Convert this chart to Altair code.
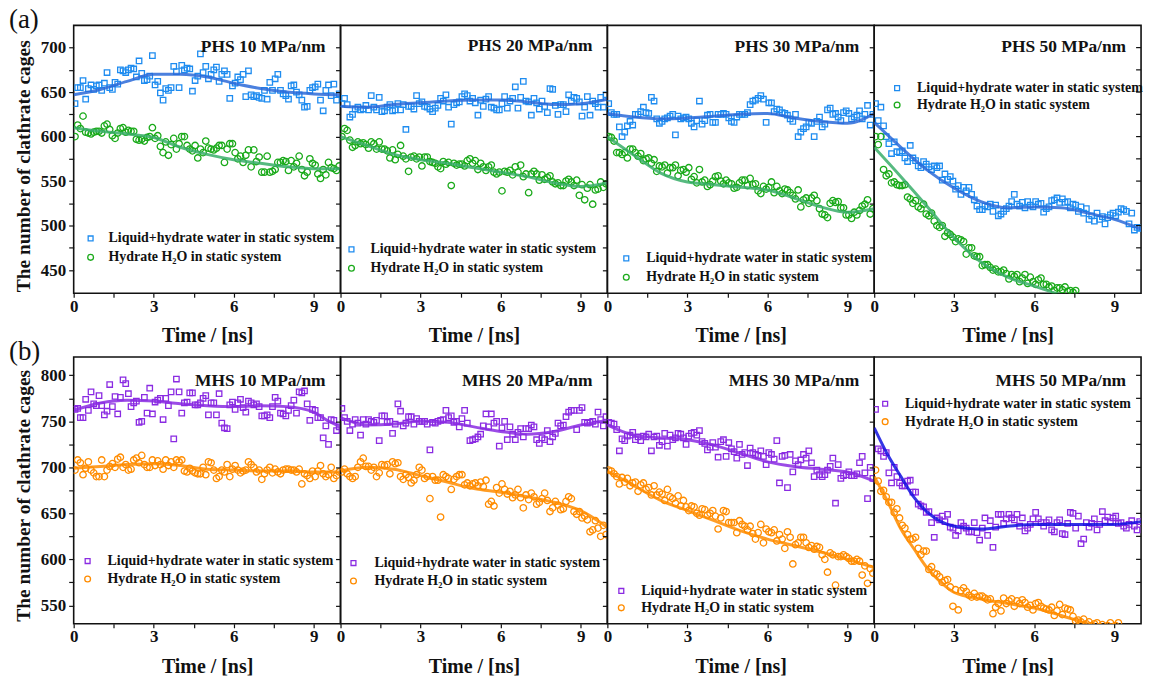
import altair as alt
import pandas as pd

# ---------------- data ----------------
T = [round(0.05 + 0.1 * i, 2) for i in range(100)]   # sampling grid, ns

PHS10_LIQ = [637,655,655,663,642,654,658,653,657,658,
             652,660,672,655,653,661,659,675,674,672,
             675,677,676,667,685,671,663,664,668,691,
             658,662,649,641,654,652,655,679,673,655,
             680,675,677,676,651,663,668,693,672,679,
             665,670,675,678,662,670,674,670,643,657,
             660,667,664,670,645,674,647,645,646,644,
             643,652,642,661,652,665,670,652,648,646,
             642,657,658,650,647,641,633,634,652,655,
             656,659,641,629,652,658,646,659,641,648]
PHS10_HYD = [600,613,609,623,605,604,603,605,606,606,
             604,612,614,608,601,598,604,609,610,605,
             607,606,606,597,596,597,595,599,600,610,
             598,601,589,582,594,579,591,598,586,592,
             600,600,590,586,584,590,576,586,582,595,
             587,586,585,587,590,590,571,586,592,592,
             582,575,578,571,579,585,566,585,572,577,
             560,560,578,560,561,563,571,571,573,572,
             562,573,566,570,578,563,556,560,575,570,
             568,558,553,563,557,571,565,564,562,567]
PHS20_LIQ = [637,643,636,622,625,631,633,630,631,635,
             630,646,633,630,644,628,629,633,636,629,
             630,637,630,636,608,634,634,631,646,637,
             639,634,633,631,628,632,635,643,640,647,
             633,614,636,638,639,645,648,646,640,643,
             638,624,641,634,642,645,633,632,630,630,
             637,645,632,640,643,656,632,644,662,640,
             639,624,643,638,631,640,634,627,654,653,
             635,625,636,636,628,647,640,644,643,639,
             623,633,645,624,640,637,633,644,633,647]
PHS20_HYD = [600,609,607,596,588,590,594,592,593,591,
             587,594,592,586,594,586,586,584,576,585,
             574,580,590,578,575,561,577,578,575,577,
             567,577,577,572,571,570,566,564,572,569,
             571,545,570,568,569,569,567,573,575,570,
             573,563,570,566,562,566,568,560,558,560,
             539,561,560,562,557,566,560,568,555,558,
             537,558,561,558,551,557,552,554,556,549,
             547,548,545,545,550,552,549,545,551,534,
             546,529,542,546,524,540,541,549,543,547]
PHS30_LIQ = [637,627,625,625,611,600,605,612,617,613,
             625,625,628,633,627,626,644,640,620,615,
             617,620,621,623,625,602,623,620,621,622,
             620,615,611,618,640,614,618,624,625,616,
             616,625,625,626,625,621,617,616,622,625,
             625,625,627,636,640,641,643,646,642,616,
             638,638,628,631,630,627,626,624,620,617,
             625,600,605,609,611,616,615,600,617,622,
             611,614,630,632,625,626,622,618,627,629,
             626,620,622,624,629,620,625,635,613,625]
PHS30_HYD = [600,599,595,582,582,580,582,576,586,586,
             582,578,581,573,575,576,570,574,561,567,
             566,568,559,565,565,568,556,562,563,560,
             565,552,555,548,563,549,551,544,546,550,
             555,556,550,547,551,548,547,542,543,548,
             551,551,545,553,546,547,539,536,544,541,
             543,549,537,544,539,536,541,540,537,534,
             530,540,521,529,531,525,531,534,528,519,
             513,512,509,525,528,526,527,520,520,512,
             512,508,515,512,517,522,524,529,513,519]
PHS50_LIQ = [637,618,633,612,600,592,581,594,583,582,
             584,576,572,590,576,573,567,565,572,569,
             566,563,567,565,567,551,558,552,555,550,
             541,545,535,543,539,543,535,529,522,518,
             518,522,521,524,516,523,511,513,516,519,
             522,527,535,524,522,526,520,527,523,521,
             527,524,525,515,519,521,528,529,531,526,
             530,526,527,520,524,523,516,521,514,519,
             507,511,505,514,507,510,502,509,512,514,
             511,515,519,518,516,502,514,495,498,497]
PHS50_HYD = [600,591,600,563,556,558,548,549,546,545,
             545,546,532,530,525,528,521,519,524,513,
             511,514,505,500,498,500,488,492,490,487,
             482,485,484,482,468,475,475,466,465,465,
             455,456,456,453,450,451,448,448,450,446,
             440,445,443,445,437,441,445,435,442,437,
             434,439,441,434,434,431,432,427,430,430,
             428,431,426,427,425,427]

MHS10_LIQ = [763,764,754,754,774,762,782,769,767,778,
             767,757,761,790,766,777,758,776,795,791,
             780,766,770,772,749,750,776,759,786,758,
             771,773,775,752,775,767,782,731,796,782,
             759,770,771,781,781,768,768,770,775,778,
             757,770,770,757,780,748,743,742,768,771,
             763,770,774,765,760,772,770,768,769,766,
             756,756,757,754,766,776,772,759,758,756,
             762,767,773,759,782,781,783,769,751,763,
             762,754,754,732,745,725,752,751,740,744]
MHS10_HYD = [697,708,705,692,699,706,697,694,690,690,
             708,690,697,701,704,700,709,711,700,703,
             697,698,708,710,705,713,703,700,700,708,
             702,707,703,698,708,702,706,700,708,706,
             708,696,695,699,696,694,693,693,700,692,
             706,705,697,688,690,697,695,703,690,698,
             702,697,694,696,697,706,703,700,695,697,
             687,693,697,700,694,698,695,693,697,698,
             698,697,697,695,698,682,693,691,688,696,
             690,696,702,693,690,692,700,688,691,695]
MHS20_LIQ = [764,754,750,740,747,752,748,735,752,747,
             752,750,749,751,729,756,756,749,750,737,
             747,769,761,745,748,755,755,747,753,750,
             750,750,747,719,749,748,750,751,752,762,
             754,756,749,750,744,753,762,748,729,730,
             731,733,736,745,758,744,758,748,750,723,
             743,750,730,744,736,730,738,742,733,742,
             742,746,744,730,726,732,730,740,728,733,
             737,748,745,746,755,760,762,762,741,762,
             765,749,748,749,750,747,760,752,745,755]
MHS20_HYD = [695,698,693,690,688,690,700,706,710,701,
             701,697,700,690,694,703,702,703,693,706,
             704,705,690,687,692,689,683,686,692,700,
             697,688,690,666,690,686,686,646,692,690,
             688,676,687,690,692,692,681,683,680,682,
             683,680,684,679,686,660,663,658,678,672,
             682,676,671,674,667,670,676,667,656,670,
             665,672,668,660,662,666,672,664,652,656,
             663,659,654,655,663,668,666,652,649,652,
             645,647,643,630,632,642,634,625,637,627]
MHS30_LIQ = [749,748,747,741,718,731,729,734,735,738,
             730,733,729,734,733,736,718,733,734,724,
             728,737,723,735,730,732,737,736,732,725,
             734,737,738,735,740,728,726,719,722,727,
             722,711,728,730,712,727,720,717,710,725,
             714,716,702,721,716,714,713,718,712,703,
             716,714,709,729,683,712,713,678,714,695,
             707,703,708,714,710,718,705,690,697,692,
             690,692,697,701,710,661,703,688,691,692,
             695,691,691,693,705,712,694,666,700,688]
MHS30_HYD = [697,696,693,690,682,689,684,688,680,683,
             684,674,681,683,676,678,670,680,670,673,
             671,664,676,668,666,661,669,658,664,657,
             653,658,657,650,648,655,654,648,650,653,
             647,633,645,653,652,640,640,640,629,642,
             638,636,632,636,628,622,629,638,618,633,
             630,629,632,620,627,622,612,630,624,595,
             616,618,624,624,618,613,615,611,614,613,
             605,600,586,607,605,572,603,603,605,603,
             601,598,598,600,598,583,593,574,590,585]
MHS50_LIQ = [763,720,718,712,716,694,683,700,690,683,
             680,680,685,686,673,673,660,658,657,651,
             652,640,624,645,643,647,641,649,635,634,
             626,631,640,636,634,630,630,640,629,621,
             634,645,626,642,613,635,649,649,639,644,
             649,645,643,649,636,645,631,634,638,644,
             651,644,640,636,640,643,632,630,640,643,
             628,627,639,651,650,634,647,617,622,640,
             635,639,644,632,638,652,642,646,641,645,
             647,639,640,636,634,638,642,636,632,641]
MHS50_HYD = [697,685,674,675,668,662,662,651,655,645,
             637,634,627,622,622,624,612,605,609,609,
             589,592,585,584,581,575,577,578,570,549,
             567,545,566,569,565,561,559,563,559,560,
             560,558,556,557,541,548,552,544,558,552,
             555,557,549,555,552,556,553,548,550,545,
             552,553,549,547,546,545,548,539,544,551,
             540,547,546,545,538,533,534,532,535,530,
             532,528,530,531,527,529,524,528,531,527,
             528,531]

# fitted curves (time, value)
FIT_T = [0, 1, 2, 3, 4, 5, 6, 7, 8, 9, 10]
PHS10_LIQ_FIT = [647, 653, 662, 670, 670, 667, 660, 654, 650, 648, 647]
PHS10_HYD_FIT = [610, 606, 603, 599, 588, 580, 574, 570, 566, 564, 564]
PHS20_LIQ_FIT = [634, 633, 636, 638, 640, 641, 641, 639, 636, 637, 642]
PHS20_HYD_FIT = [600, 590, 580, 574, 570, 565, 560, 555, 548, 544, 548]
PHS30_LIQ_FIT = [626, 622, 620, 621, 623, 625, 626, 621, 617, 615, 626]
PHS30_HYD_FIT = [600, 579, 559, 549, 546, 543, 540, 531, 521, 515, 519]
PHS50_LIQ_FIT = [616, 588, 562, 542, 527, 520, 521, 520, 514, 507, 496]
PHS50_HYD_FIT_T = [0, 1, 2, 3, 4, 5, 6, 7, 8]
PHS50_HYD_FIT = [588, 555, 521, 486, 459, 442, 432, 422, 414]
MHS10_LIQ_FIT_T = [0, 1, 2, 3, 4, 5, 6, 7, 8, 9, 9.5, 10]
MHS10_LIQ_FIT = [762, 770, 773, 772, 769, 767, 766, 767, 766, 760, 751, 744]
MHS10_HYD_FIT = [699, 701, 703, 704, 702, 698, 697, 696, 696, 695, 695]
MHS20_LIQ_FIT = [754, 746, 747, 750, 749, 744, 739, 736, 739, 746, 751]
MHS20_HYD_FIT = [696, 700, 698, 691, 684, 677, 673, 668, 662, 653, 635]
MHS30_LIQ_FIT = [746, 735, 732, 730, 724, 715, 706, 701, 698, 695, 685]
MHS30_HYD_FIT = [696, 680, 664, 653, 642, 631, 622, 615, 608, 600, 591]
MHS50_LIQ_FIT_T = [0, 0.5, 1, 1.5, 2, 2.5, 3, 4, 5, 6, 7, 8, 9, 10]
MHS50_LIQ_FIT = [743, 714, 690, 667, 651, 641, 636, 633, 636, 638, 638, 638, 638, 641]
MHS50_HYD_FIT_T = [0, 0.5, 1, 1.5, 2, 2.5, 3, 4, 5, 6, 7, 8, 9]
MHS50_HYD_FIT = [690, 663, 633, 611, 590, 575, 564, 557, 552, 547, 539, 530, 522]

TITLES_TOP = ["PHS 10 MPa/nm", "PHS 20 MPa/nm", "PHS 30 MPa/nm", "PHS 50 MPa/nm"]
TITLES_BOT = ["MHS 10 MPa/nm", "MHS 20 MPa/nm", "MHS 30 MPa/nm", "MHS 50 MPa/nm"]
LEG1 = "Liquid+hydrate water in static system"
LEG2 = "Hydrate H\u2082O in static system"
X_TICKS = [0, 1.5, 3, 4.5, 6, 7.5, 9]
Y_TICKS_TOP = [450, 475, 500, 525, 550, 575, 600, 625, 650, 675, 700]
Y_TICKS_BOT = [550, 575, 600, 625, 650, 675, 700, 725, 750, 775, 800]

# ---------------- styling ----------------
FONT = "Liberation Serif"
W, H_TOP, H_BOT = 268, 269, 268
AX = dict(labelFont=FONT, labelFontSize=17, labelFontWeight="bold", labelColor="#111",
          titleFont=FONT, titleFontWeight="bold", titleColor="#111",
          tickColor="#111", tickWidth=1.2, domain=False, grid=False)


def dummy(s):
    return pd.DataFrame({"s": [s]})


def panel(liq, hyd, liq_fit, hyd_fit, title, ydom, yticks, style, leg, first,
          tag, h, title_y, ytitle_y=140, last=False):
    X = alt.X("t:Q", scale=alt.Scale(domain=[0, 10], nice=False, zero=False),
              axis=alt.Axis(values=X_TICKS, labelExpr="datum.value % 3 === 0 ? datum.label : ''",
                            labelFlush=False, labelOverlap=False, tickSize=4, labelPadding=1,
                            titlePadding=12, titleFontSize=20, **AX),
              title="Time / [ns]")
    if first:
        yax = alt.Axis(values=yticks, labelExpr="datum.value % 50 === 0 ? datum.label : ''",
                       labelOverlap=False, tickSize=5, labelPadding=3, titlePadding=7,
                       titleFontSize=19.5, titleY=ytitle_y, **AX)
        Y = alt.Y("v:Q", scale=alt.Scale(domain=ydom, nice=False, zero=False), axis=yax,
                  title="The number of clathrate cages")
    else:
        yax = alt.Axis(values=yticks, labels=False, tickSize=5, **AX)
        Y = alt.Y("v:Q", scale=alt.Scale(domain=ydom, nice=False, zero=False), axis=yax,
                  title=None)

    df_l = pd.DataFrame({"t": T[:len(liq)], "v": liq})
    df_h = pd.DataFrame({"t": T[:len(hyd)], "v": hyd})
    df_fl = pd.DataFrame({"t": liq_fit[0], "v": liq_fit[1]})
    df_fh = pd.DataFrame({"t": hyd_fit[0], "v": hyd_fit[1]})

    sq_c, ci_c, l_c, h_c = style
    p_l = alt.Chart(df_l).mark_point(shape="square", filled=False, size=30, strokeWidth=1.3,
                                     color=sq_c, opacity=1, clip=True).encode(x=X, y=Y)
    p_h = alt.Chart(df_h).mark_point(shape="circle", filled=False, size=42, strokeWidth=1.3,
                                     color=ci_c, opacity=1, clip=True).encode(x=X, y=Y)
    f_l = alt.Chart(df_fl).mark_line(interpolate="monotone", strokeWidth=3, color=l_c,
                                     opacity=0.85, clip=True).encode(x=X, y=Y)
    f_h = alt.Chart(df_fh).mark_line(interpolate="monotone", strokeWidth=3, color=h_c,
                                     opacity=0.85, clip=True).encode(x=X, y=Y)

    ttl = alt.Chart(dummy(title)).mark_text(align="right", baseline="middle", font=FONT,
                                            fontSize=17.5, fontWeight="bold", color="#111").encode(
        text="s:N", x=alt.value(W - 15), y=alt.value(title_y))

    lx, ly, tx, dy = leg
    lg_s = alt.Chart(dummy("a")).mark_point(shape="square", filled=False, size=24, strokeWidth=1.3,
                                            color=sq_c, opacity=1).encode(x=alt.value(lx), y=alt.value(ly))
    lg_c = alt.Chart(dummy("a")).mark_point(shape="circle", filled=False, size=34, strokeWidth=1.3,
                                            color=ci_c, opacity=1).encode(x=alt.value(lx), y=alt.value(ly + dy))
    lg_t1 = alt.Chart(dummy(LEG1)).mark_text(align="left", baseline="middle", font=FONT, fontSize=14,
                                             fontWeight="bold", color="#111").encode(
        text="s:N", x=alt.value(tx), y=alt.value(ly))
    lg_t2 = alt.Chart(dummy(LEG2)).mark_text(align="left", baseline="middle", font=FONT, fontSize=14,
                                             fontWeight="bold", color="#111").encode(
        text="s:N", x=alt.value(tx), y=alt.value(ly + dy))

    layers = [p_l, p_h, f_l, f_h, ttl, lg_s, lg_c, lg_t1, lg_t2]
    if last:
        # inward tick marks along the right frame of the last panel
        layers.append(alt.Chart(pd.DataFrame({"v": yticks})).mark_rule(color="#111", strokeWidth=1.2)
                      .encode(y=Y, x=alt.value(W - 5), x2=alt.value(W)))
    if tag:
        layers.append(alt.Chart(dummy(tag)).mark_text(align="left", baseline="alphabetic", font=FONT,
                                                      fontSize=27, color="#111").encode(
            text="s:N", x=alt.value(-65), y=alt.value(3)))
    return alt.layer(*layers).properties(width=W, height=h)


TOP_STYLE = ("#1E8CF0", "#1AAA1A", "#2B6AD8", "#3AAE6A")
BOT_STYLE = ("#8A2BE2", "#FF8C00", "#8A2BE2", "#FF8C00")
M50_STYLE = ("#8A2BE2", "#FF8C00", "#1212E0", "#FF8C00")

panels = [
    panel(PHS10_LIQ, PHS10_HYD, (FIT_T, PHS10_LIQ_FIT), (FIT_T, PHS10_HYD_FIT), TITLES_TOP[0],
          [424, 725], Y_TICKS_TOP, TOP_STYLE, (17, 214, 35, 19), True, "(a)", H_TOP, 22, 141),
    panel(PHS20_LIQ, PHS20_HYD, (FIT_T, PHS20_LIQ_FIT), (FIT_T, PHS20_HYD_FIT), TITLES_TOP[1],
          [424, 725], Y_TICKS_TOP, TOP_STYLE, (11, 225, 30, 19), False, None, H_TOP, 21),
    panel(PHS30_LIQ, PHS30_HYD, (FIT_T, PHS30_LIQ_FIT), (FIT_T, PHS30_HYD_FIT), TITLES_TOP[2],
          [424, 725], Y_TICKS_TOP, TOP_STYLE, (19, 234, 39, 19), False, None, H_TOP, 22),
    panel(PHS50_LIQ, PHS50_HYD, (FIT_T, PHS50_LIQ_FIT), (PHS50_HYD_FIT_T, PHS50_HYD_FIT), TITLES_TOP[3],
          [424, 725], Y_TICKS_TOP, TOP_STYLE, (23, 63, 43, 17), False, None, H_TOP, 22, last=True),
    panel(MHS10_LIQ, MHS10_HYD, (MHS10_LIQ_FIT_T, MHS10_LIQ_FIT), (FIT_T, MHS10_HYD_FIT), TITLES_BOT[0],
          [530, 820], Y_TICKS_BOT, BOT_STYLE, (14, 205, 34, 18), True, "(b)", H_BOT, 24, 139),
    panel(MHS20_LIQ, MHS20_HYD, (FIT_T, MHS20_LIQ_FIT), (FIT_T, MHS20_HYD_FIT), TITLES_BOT[1],
          [530, 820], Y_TICKS_BOT, BOT_STYLE, (13, 207, 34, 18), False, None, H_BOT, 24),
    panel(MHS30_LIQ, MHS30_HYD, (FIT_T, MHS30_LIQ_FIT), (FIT_T, MHS30_HYD_FIT), TITLES_BOT[2],
          [530, 820], Y_TICKS_BOT, BOT_STYLE, (14, 235, 34, 17), False, None, H_BOT, 24),
    panel(MHS50_LIQ, MHS50_HYD, (MHS50_LIQ_FIT_T, MHS50_LIQ_FIT), (MHS50_HYD_FIT_T, MHS50_HYD_FIT),
          TITLES_BOT[3], [530, 820], Y_TICKS_BOT, M50_STYLE, (11, 47, 31, 18), False, None, H_BOT, 24,
          last=True),
]

chart = alt.concat(*panels, columns=4, spacing={"row": 64, "column": 0}, bounds="flush").properties(
    padding={"left": 8, "top": 4, "right": 8, "bottom": 4}, background="white"
).configure(font=FONT).configure_view(stroke="#111", strokeWidth=1.6).configure_axis(
    labelFont=FONT, titleFont=FONT
)

chart.save("out.html", embed_options={"renderer": "svg", "actions": False})
